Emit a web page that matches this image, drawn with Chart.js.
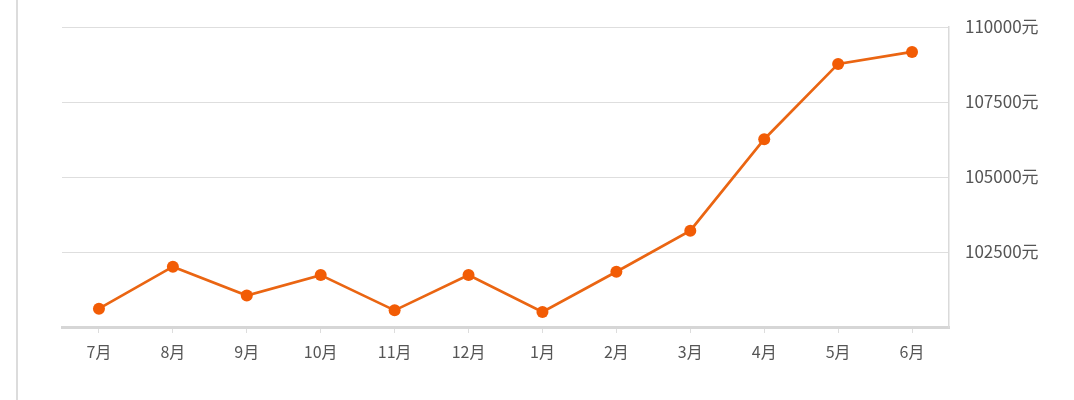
<!DOCTYPE html>
<html>
<head>
<meta charset="utf-8">
<script src="https://cdn.jsdelivr.net/npm/chart.js@4/dist/chart.umd.min.js"></script>
<style>
  html, body { margin: 0; padding: 0; background: #fff; }
  .wrap { position: relative; width: 1074px; height: 400px; }
  .edge { position: absolute; left: 16px; top: 0; width: 2px; height: 400px; background: #dcdcdc; }
  canvas { position: absolute; left: 0; top: 0; }
</style>
</head>
<body>
<div class="wrap">
  <div class="edge"></div>
  <canvas id="myChart" width="1074" height="400"></canvas>
</div>
<script>
// months shown on the x axis
var months = ['7月', '8月', '9月', '10月', '11月', '12月', '1月', '2月', '3月', '4月', '5月', '6月'];
// price per month
var prices = [100610, 102010, 101050, 101730, 100555, 101730, 100500, 101840, 103210, 106260, 108770, 109170];
// y axis range and step
var yMin = 100000;
var yMax = 110000;
var yStep = 2500;

var font = '"Noto Sans CJK SC", "Noto Sans", sans-serif';

var ctx = document.getElementById('myChart');
new Chart(ctx, {
  type: 'line',
  data: {
    labels: months,
    datasets: [{
      data: prices,
      borderColor: '#ea6512',
      borderWidth: 2.7,
      backgroundColor: '#f25c05',
      pointBackgroundColor: '#f25c05',
      pointBorderColor: '#f25c05',
      pointRadius: 6,
      pointBorderWidth: 0,
      tension: 0,
      fill: false
    }]
  },
  options: {
    responsive: false,
    animation: false,
    devicePixelRatio: 1,
    layout: { padding: { left: 62, top: 27, right: 0, bottom: 0 } },
    plugins: { legend: { display: false }, tooltip: { enabled: false } },
    scales: {
      x: {
        offset: true,
        grid: {
          drawOnChartArea: false,
          drawTicks: true,
          tickLength: 6,
          color: '#dddddd'
        },
        border: { display: true, color: '#d6d6d6', width: 3 },
        ticks: {
          color: '#555555',
          font: { family: font, size: 16 },
          padding: 9,
          maxRotation: 0
        },
        afterFit: function(axis) { axis.height = 73; }
      },
      y: {
        position: 'right',
        min: yMin,
        max: yMax,
        grid: { color: '#dedede', lineWidth: 1, drawTicks: false },
        border: { display: true, color: '#dadada', width: 1.5 },
        ticks: {
          stepSize: yStep,
          color: '#555555',
          font: { family: font, size: 17 },
          padding: 16,
          callback: function(value) {
            if (value === yMin) return '';
            return value + '元';
          }
        },
        afterFit: function(axis) { axis.width = 125; }
      }
    }
  }
});
</script>
</body>
</html>
